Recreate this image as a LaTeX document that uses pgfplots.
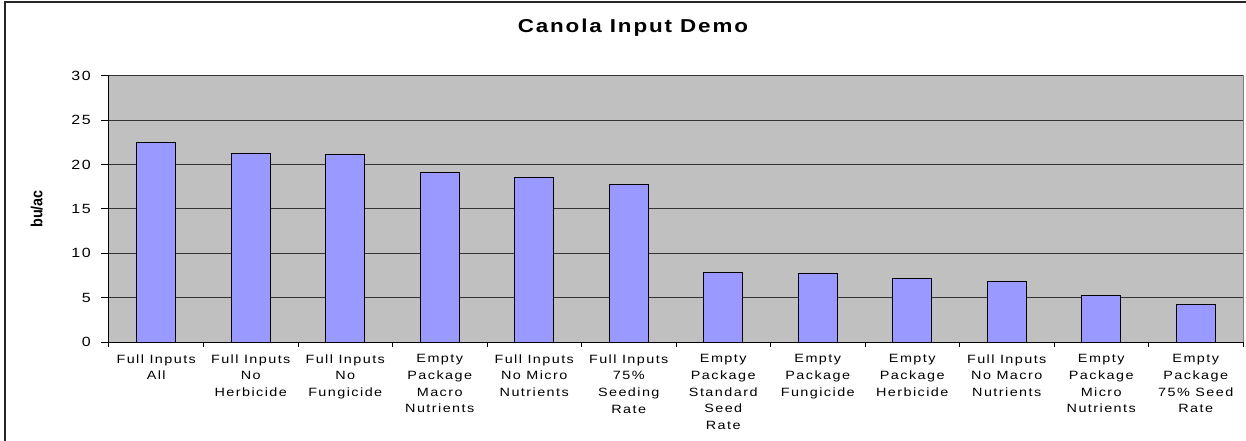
\documentclass[border=0pt]{standalone}
\usepackage{fontspec}
\setmainfont{Liberation Sans}
\newfontfamily\tickfont[FakeStretch=1.2,LetterSpace=12]{Liberation Sans}
\newfontfamily\titlefont[FakeStretch=1.2,LetterSpace=10]{Liberation Sans}
\newfontfamily\ylabfont[FakeStretch=0.9]{Liberation Sans}
\usepackage{pgfplots}
\pgfplotsset{compat=1.18}
\definecolor{barBlue}{HTML}{9999FF}
\definecolor{bgGray}{HTML}{C0C0C0}
\definecolor{borderGray}{HTML}{808080}
\begin{document}
\begin{tikzpicture}
\path[use as bounding box] (-81.75pt,-74pt) rectangle (852.75pt,256.7pt);
\begin{axis}[
  scale only axis,
  width=850.5pt, height=200pt,
  xmin=-0.5, xmax=11.5,
  ymin=0, ymax=30,
  axis background/.style={fill=bgGray, draw=borderGray, line width=0.75pt},
  axis x line*=bottom, axis y line*=left,
  axis line style={-, black, line width=0.75pt},
  tick align=outside,
  xtick={0,...,11},
  minor xtick={-0.5,0.5,...,11.5},
  major x tick style={draw=none},
  minor x tick style={black, line width=0.75pt},
  minor tick length=3.4pt,
  major tick length=6pt,
  major y tick style={black, line width=0.75pt},
  ytick={0,5,...,30},
  ymajorgrids,
  y grid style={black!80, line width=0.75pt},
  /pgf/number format/assume math mode=true,
  yticklabel style={font=\tickfont\fontsize{10}{12}\selectfont, inner sep=0pt, xshift=-7.5pt},
  xticklabel style={font=\tickfont\fontsize{9}{12.5}\selectfont, align=center, anchor=north, inner sep=0pt, yshift=-3pt},
  xticklabels={{Full Inputs\\All},{Full Inputs\\No\\Herbicide},{Full Inputs\\No\\Fungicide},{Empty\\Package\\Macro\\Nutrients},{Full Inputs\\No Micro\\Nutrients},{Full Inputs\\75\%\\Seeding\\Rate},{Empty\\Package\\Standard\\Seed\\Rate},{Empty\\Package\\Fungicide},{Empty\\Package\\Herbicide},{Full Inputs\\No Macro\\Nutrients},{Empty\\Package\\Micro\\Nutrients},{Empty\\Package\\75\% Seed\\Rate}},
  ylabel={bu/ac},
  ylabel style={at={(axis description cs:0,0.5)}, anchor=center, yshift=54.2pt, font=\ylabfont\bfseries\fontsize{12}{14}\selectfont},
  title={Canola Input Demo},
  title style={at={(axis description cs:0.462,1)}, anchor=base, yshift=26.5pt, font=\titlefont\bfseries\fontsize{14}{16}\selectfont},
]
\addplot[ybar, bar width=29.25pt, fill=barBlue, draw=black, line width=0.75pt]
  coordinates {(0,22.5) (1,21.2) (2,21.1) (3,19.1) (4,18.5) (5,17.8) (6,7.9) (7,7.7) (8,7.2) (9,6.8) (10,5.3) (11,4.3)};
\end{axis}
\draw[black!85, line width=1.2pt] (-78pt,-80pt) -- (-78pt,255.2pt) -- (860pt,255.2pt);
\end{tikzpicture}
\end{document}
